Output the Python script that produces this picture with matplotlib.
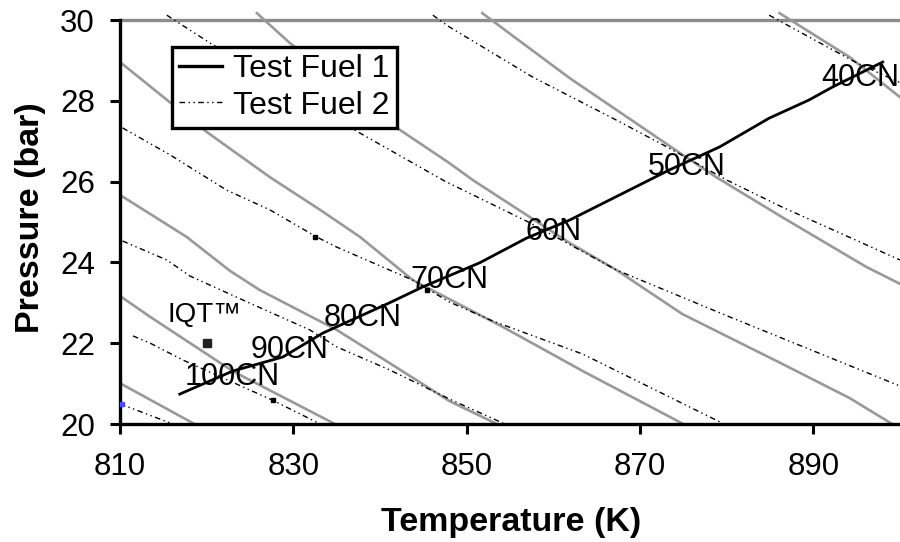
import matplotlib
matplotlib.use("Agg")
import matplotlib.pyplot as plt

plt.rcParams["font.family"] = ["Liberation Sans", "DejaVu Sans"]

# -----------------------------------------------------
# Values (T in K, P in bar)
# -----------------------------------------------------

# Test Fuel 1 trajectory (solid black)
fuel1_T = [816.9, 823.0, 828.8, 833.4, 841.1, 844.9, 851.5, 856.9, 861.9,
           873.4, 879.2, 884.9, 889.5, 892.2, 898.0]
fuel1_P = [20.74, 21.31, 21.66, 22.25, 23.00, 23.39, 23.99, 24.60, 25.05,
           26.29, 26.86, 27.57, 28.02, 28.34, 28.96]

# grey solid lines
grey1_T = [810.0, 818.6]
grey1_P = [21.01, 20.0]
grey2_T = [810.0, 813.5, 823.0, 834.8]
grey2_P = [23.17, 22.65, 21.31, 20.0]
grey3_T = [810.0, 817.7, 822.7, 826.1, 835.0, 841.1, 848.0, 853.5]
grey3_P = [25.67, 24.63, 23.79, 23.32, 22.33, 21.51, 20.57, 20.0]
grey4_T = [810.0, 820.0, 827.3, 833.1, 837.7, 843.8, 854.2, 863.4, 875.0]
grey4_P = [28.96, 27.23, 26.11, 25.30, 24.63, 23.56, 22.40, 21.31, 20.0]
grey5_T = [825.8, 829.6, 842.3, 848.0, 850.7, 861.9, 867.3, 874.9, 886.4, 894.2, 899.1]
grey5_P = [30.17, 29.43, 27.28, 26.46, 26.04, 24.48, 23.81, 22.72, 21.49, 20.64, 20.0]
grey6_T = [851.8, 861.9, 874.6, 878.8, 886.4, 896.1, 900.0]
grey6_P = [30.17, 28.56, 26.71, 26.11, 25.12, 23.89, 23.47]
grey7_T = [886.1, 894.2, 900.0]
grey7_P = [30.17, 29.08, 28.09]

# dotted lines (Test Fuel 2)
dot1_T = [810.0, 816.1]
dot1_P = [20.50, 20.0]
dot2_T = [811.5, 813.5, 817.3, 827.6, 833.1]
dot2_P = [22.18, 22.0, 21.58, 20.59, 20.0]
dot3_T = [810.3, 815.4, 818.1, 825.0, 831.9, 835.0, 841.1, 848.0, 854.4]
dot3_P = [24.53, 24.06, 23.66, 22.99, 22.33, 21.91, 21.34, 20.62, 20.0]
dot4_T = [810.3, 815.8, 822.3, 827.3, 832.7, 835.0, 843.8, 848.0, 853.0, 863.4, 879.7]
dot4_P = [27.33, 26.66, 25.79, 25.30, 24.63, 24.38, 23.56, 23.02, 22.55, 21.73, 20.0]
dot5_T = [815.4, 820.4, 837.7, 847.5, 857.3, 867.3, 880.7, 900.0]
dot5_P = [30.12, 29.43, 27.20, 26.01, 24.98, 23.81, 22.62, 20.94]
dot6_T = [846.1, 848.0, 857.6, 867.3, 873.1, 880.0, 886.4, 900.0]
dot6_P = [30.12, 29.83, 28.59, 27.52, 26.86, 26.04, 25.37, 24.06]
dot7_T = [884.9, 889.5, 895.0, 900.0]
dot7_P = [30.12, 29.58, 28.94, 28.45]

# small black points and the stray blue point
pts_T = [832.5, 827.6, 845.4]
pts_P = [24.63, 20.59, 23.32]
blue_T = [810.2]
blue_P = [20.50]

# IQT point
iqt_T = [820.0]
iqt_P = [22.0]

# cetane number labels (centre positions)
cn_labels = ["100CN", "90CN", "80CN", "70CN", "60N", "50CN", "40CN"]
cn_T = [822.9, 829.6, 838.0, 848.0, 860.0, 875.4, 895.4]
cn_P = [21.16, 21.83, 22.62, 23.56, 24.75, 26.36, 28.56]

x_ticks = [810, 830, 850, 870, 890]
y_ticks = [20, 22, 24, 26, 28, 30]

# -----------------------------------------------------
# Plot
# -----------------------------------------------------

fig = plt.figure(figsize=(9, 5.42), dpi=100)
ax = fig.add_axes([0.1333, 0.2177, 0.8667, 0.764])

grey = "#999999"
dash = (0, (4, 2.5, 1, 2.5, 1, 2.5))

ax.axhline(30, color="#8c8c8c", lw=2.4, zorder=1)

for T, P in [(grey1_T, grey1_P), (grey2_T, grey2_P), (grey3_T, grey3_P),
             (grey4_T, grey4_P), (grey5_T, grey5_P), (grey6_T, grey6_P),
             (grey7_T, grey7_P)]:
    ax.plot(T, P, color=grey, lw=1.9, zorder=2)

dotted = [(dot1_T, dot1_P), (dot2_T, dot2_P), (dot3_T, dot3_P), (dot4_T, dot4_P),
          (dot5_T, dot5_P), (dot6_T, dot6_P), (dot7_T, dot7_P)]
for i, (T, P) in enumerate(dotted):
    ax.plot(T, P, color="black", lw=1.0, linestyle=dash, zorder=3,
            label="Test Fuel 2" if i == 0 else None)

ax.plot(fuel1_T, fuel1_P, color="black", lw=2.0, zorder=4, label="Test Fuel 1")

ax.plot(pts_T, pts_P, "s", color="black", ms=2.2, zorder=5)
ax.plot(blue_T, blue_P, "s", color="#4a4aff", ms=2.5, zorder=5, clip_on=False)
ax.plot(iqt_T, iqt_P, "s", color="#222222", ms=6, zorder=5)
ax.text(815.5, 22.52, "IQT™", fontsize=20, va="baseline", ha="left", zorder=6)

for lab, T, P in zip(cn_labels, cn_T, cn_P):
    ax.text(T, P, lab, fontsize=22, ha="center", va="center", zorder=6)

ax.set_xlim(810, 900)
ax.set_ylim(20, 30.25)
ax.set_xticks(x_ticks)
ax.set_yticks(y_ticks)

for side in ["top", "right"]:
    ax.spines[side].set_visible(False)
for side in ["left", "bottom"]:
    ax.spines[side].set_linewidth(2.4)
ax.spines["left"].set_bounds(20, 30)

ax.tick_params(axis="both", direction="out", length=7, width=2.2, labelsize=22.5)
ax.tick_params(axis="x", pad=13)
ax.tick_params(axis="y", pad=11)

handles, labels = ax.get_legend_handles_labels()
order = [labels.index("Test Fuel 1"), labels.index("Test Fuel 2")]
leg = ax.legend([handles[i] for i in order], [labels[i] for i in order],
                loc="upper left", bbox_to_anchor=(0.0667, 0.910),
                fontsize=23, fancybox=False, framealpha=1, edgecolor="black",
                handlelength=1.35, handletextpad=0.35, borderpad=0.22,
                labelspacing=0.2, borderaxespad=0)
leg.get_frame().set_linewidth(2.4)
leg.get_lines()[0].set_linewidth(2.4)

fig.text(0.568, 0.0203, "Temperature (K)", fontsize=24.5, fontweight="bold",
         ha="center", va="baseline")
fig.text(0.034, 0.598, "Pressure (bar)", fontsize=24.5, fontweight="bold",
         ha="center", va="center", rotation=90)

fig.savefig("out.png", dpi=100)
